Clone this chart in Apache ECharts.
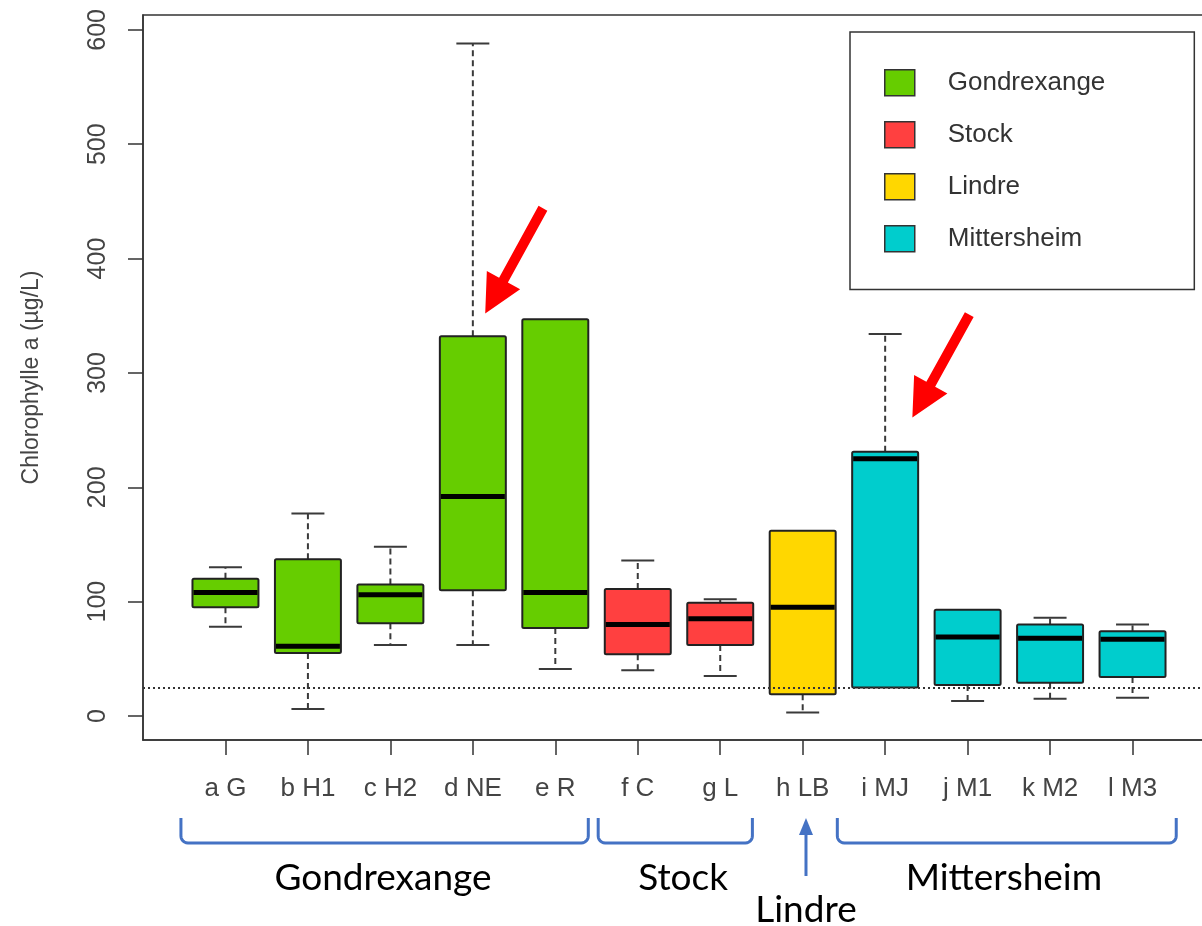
<!DOCTYPE html>
<html><head><meta charset="utf-8">
<script src="https://cdn.jsdelivr.net/npm/echarts@6/dist/echarts.min.js"></script>
<style>html,body{margin:0;padding:0;background:#fff}#c{width:1202px;height:926px}</style>
</head><body><div id="c"></div>
<script>
// ---- data ----
const categories = ['a G','b H1','c H2','d NE','e R','f C','g L','h LB','i MJ','j M1','k M2','l M3'];
const groupOf    = [0,0,0,0,0,1,1,2,3,3,3,3];
const groupNames = ['Gondrexange','Stock','Lindre','Mittersheim'];
const groupColors = ['#66CD00','#FF4040','#FFD700','#00CDCD'];
const lows    = [78,   6,  62,  62,  41,  40,  35,   3,  25,  13,  15,  16];
const q1s     = [95,  55,  81, 110,  77,  54,  62,  19,  25,  27,  29,  34];
const medians = [108, 61, 106, 192, 108,  80,  85,  95, 225,  69,  68,  67];
const q3s     = [120,137, 115, 332, 347, 111,  99, 162, 231,  93,  80,  74];
const highs   = [130,177, 148, 588, 347, 136, 102, 162, 334,  93,  86,  80];
const yTicks = [0,100,200,300,400,500,600];
const threshold = 25;

// annotation anchors (data coordinates on x)
const brackets = [
  {label:'Gondrexange', from:0.46, to:5.40, textAt:2.91},
  {label:'Stock', from:5.52, to:7.39, textAt:6.55},
  {label:'Mittersheim', from:8.42, to:12.53, textAt:10.44}
];
const lindreAt = 8.04;
const redArrows = [
  {tail:[4.85,444], tip:[4.15,352]},
  {tail:[10.02,351], tip:[9.33,261]}
];

const chart = echarts.init(document.getElementById('c'), null, {renderer:'canvas'});
const xPos = categories.map((_, i) => i + 1);

function renderBox(params, api){
  const x = api.value(0);
  const lo = api.value(1), a = api.value(2), m = api.value(3), b = api.value(4), hi = api.value(5);
  const unit = api.size([1,0])[0];
  const half = unit*0.4, cap = unit*0.2;
  const pLo = api.coord([x,lo]), pA = api.coord([x,a]), pM = api.coord([x,m]), pB = api.coord([x,b]), pHi = api.coord([x,hi]);
  const cx = pA[0];
  const color = api.visual('color');
  const wStyle = {stroke:'#3a3a3a', lineWidth:2, lineDash:[6,4], fill:null};
  const cStyle = {stroke:'#3a3a3a', lineWidth:2, fill:null};
  const ch = [];
  if (hi > b) {
    ch.push({type:'line', shape:{x1:cx,y1:pB[1],x2:cx,y2:pHi[1]}, style:wStyle});
    ch.push({type:'line', shape:{x1:cx-cap,y1:pHi[1],x2:cx+cap,y2:pHi[1]}, style:cStyle});
  }
  if (lo < a) {
    ch.push({type:'line', shape:{x1:cx,y1:pA[1],x2:cx,y2:pLo[1]}, style:wStyle});
    ch.push({type:'line', shape:{x1:cx-cap,y1:pLo[1],x2:cx+cap,y2:pLo[1]}, style:cStyle});
  }
  ch.push({type:'rect', shape:{x:cx-half, y:pB[1], width:2*half, height:pA[1]-pB[1], r:1.5},
           style:{fill:color, stroke:'#222', lineWidth:2}});
  ch.push({type:'line', shape:{x1:cx-half+1,y1:pM[1],x2:cx+half-1,y2:pM[1]}, style:{stroke:'#000', lineWidth:5}});
  return {type:'group', children:ch};
}

const series = groupNames.map((g, gi) => ({
  name: g,
  type: 'custom',
  renderItem: renderBox,
  itemStyle: {color: groupColors[gi]},
  encode: {x: 0, y: [1,2,3,4,5]},
  data: categories.map((c, i) => i).filter(i => groupOf[i] === gi)
        .map(i => [xPos[i], lows[i], q1s[i], medians[i], q3s[i], highs[i]]),
  z: 2
}));
series[0].markLine = {
  silent: true, symbol: 'none', z: 10,
  label: {show:false},
  lineStyle: {color:'#333', type:[2,3], width:2},
  data: [{yAxis: threshold}]
};

const option = {
  animation: false,
  backgroundColor: '#fff',
  grid: {left:143, top:15, width:1072, height:725, show:true, borderColor:'#333', borderWidth:1.5,
         backgroundColor:'transparent', outerBoundsMode:'none', containLabel:false},
  xAxis: {
    type:'value', min:0, max:13,
    axisLine:{show:true, onZero:false, lineStyle:{color:'#333', width:1.5}},
    axisTick:{show:true, length:15, lineStyle:{color:'#333', width:1.5}, customValues: xPos},
    axisLabel:{show:true, customValues: xPos, margin:36, color:'#444', fontSize:26,
               fontFamily:'Liberation Sans, Arial, sans-serif',
               formatter: v => categories[Math.round(v)-1] || ''},
    splitLine:{show:false}
  },
  yAxis: {
    type:'value', min:-21, max:613,
    name:'Chlorophylle a (µg/L)', nameLocation:'middle', nameGap:100, nameRotate:90,
    nameTextStyle:{color:'#444', fontSize:23, fontFamily:'Liberation Sans, Arial, sans-serif'},
    axisLine:{show:true, onZero:false, lineStyle:{color:'#333', width:1.5}},
    axisTick:{show:true, length:15, lineStyle:{color:'#333', width:1.5}, customValues: yTicks},
    axisLabel:{show:true, customValues: yTicks, rotate:90, margin:32, color:'#444', fontSize:25,
               fontFamily:'Liberation Sans, Arial, sans-serif'},
    splitLine:{show:false}
  },
  legend: {
    orient:'vertical', left:850, top:32,
    padding:[37, 89, 37, 34],
    itemWidth:30, itemHeight:26, itemGap:24.5,
    borderColor:'#333', borderWidth:1.5, backgroundColor:'#fff',
    icon:'rect',
    itemStyle:{borderColor:'#333', borderWidth:1.5},
    textStyle:{color:'#333', fontSize:26, fontFamily:'Liberation Sans, Arial, sans-serif', padding:[0,0,0,28]},
    data: groupNames.map((g, gi) => ({name:g, itemStyle:{color:groupColors[gi]}}))
  },
  series: series
};
chart.setOption(option);

// ---- annotations ----
function px(v){ return chart.convertToPixel({gridIndex:0}, v); }
const graphics = [];
const blue = '#4472C4';
const bTop = 818, bBot = 843, rr = 7;
function arc(cx, cy, r, a0, a1){
  const pts = [];
  for (let k = 0; k <= 6; k++){ const t = a0 + (a1-a0)*k/6; pts.push([cx + r*Math.cos(t), cy + r*Math.sin(t)]); }
  return pts;
}
const bigFont = '37px Lato, "Open Sans", sans-serif';
brackets.forEach(b => {
  const x1 = px([b.from, 0])[0], x2 = px([b.to, 0])[0];
  const pts = [[x1, bTop]]
    .concat(arc(x1+rr, bBot-rr, rr, Math.PI, Math.PI/2))
    .concat(arc(x2-rr, bBot-rr, rr, Math.PI/2, 0))
    .concat([[x2, bTop]]);
  graphics.push({type:'polyline', silent:true, shape:{points:pts},
    style:{stroke:blue, lineWidth:3, fill:null}});
  graphics.push({type:'text', silent:true, x:px([b.textAt, 0])[0], y:878,
    style:{text:b.label, font:bigFont, fill:'#000', align:'center', verticalAlign:'middle'}});
});
const lx = px([lindreAt, 0])[0];
graphics.push({type:'line', silent:true, shape:{x1:lx,y1:876,x2:lx,y2:832}, style:{stroke:blue, lineWidth:3}});
graphics.push({type:'polygon', silent:true, shape:{points:[[lx,818],[lx-7,835],[lx+7,835]]}, style:{fill:blue}});
graphics.push({type:'text', silent:true, x:lx, y:910,
  style:{text:'Lindre', font:bigFont, fill:'#000', align:'center', verticalAlign:'middle'}});

redArrows.forEach(a => {
  const t = px(a.tail), p = px(a.tip);
  const dx = p[0]-t[0], dy = p[1]-t[1], len = Math.hypot(dx,dy);
  const ux = dx/len, uy = dy/len, nx = -uy, ny = ux;
  const sw = 5, hw = 19, hl = 38;
  const bx = p[0]-ux*hl, by = p[1]-uy*hl;
  const pts = [
    [t[0]+nx*sw, t[1]+ny*sw], [bx+nx*sw, by+ny*sw], [bx+nx*hw, by+ny*hw], p,
    [bx-nx*hw, by-ny*hw], [bx-nx*sw, by-ny*sw], [t[0]-nx*sw, t[1]-ny*sw]
  ];
  graphics.push({type:'polygon', silent:true, z:100, shape:{points:pts}, style:{fill:'#FF0000'}});
});
chart.setOption({graphic: graphics});
</script>
</body></html>
